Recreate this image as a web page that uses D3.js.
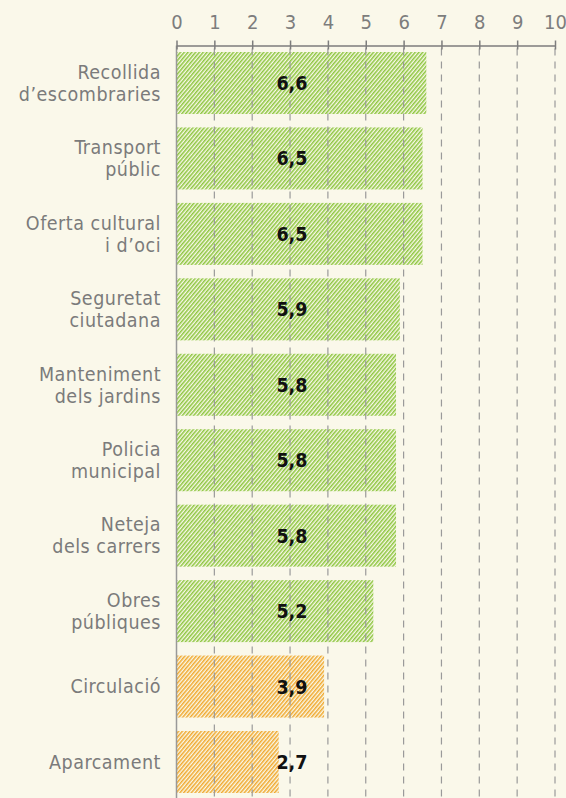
<!DOCTYPE html>
<html>
<head>
<meta charset="utf-8">
<script src="https://cdn.jsdelivr.net/npm/d3@7"></script>
<style>
  html, body { margin: 0; padding: 0; background: #faf8ea; }
  svg { display: block; }
</style>
</head>
<body>
<div id="chart"></div>
<script>
const categories = [
  ["Recollida", "d’escombraries"],
  ["Transport", "públic"],
  ["Oferta cultural", "i d’oci"],
  ["Seguretat", "ciutadana"],
  ["Manteniment", "dels jardins"],
  ["Policia", "municipal"],
  ["Neteja", "dels carrers"],
  ["Obres", "públiques"],
  ["Circulació"],
  ["Aparcament"]
];
const values = [6.6, 6.5, 6.5, 5.9, 5.8, 5.8, 5.8, 5.2, 3.9, 2.7];
const groups = ["ok", "ok", "ok", "ok", "ok", "ok", "ok", "ok", "low", "low"];
const ticks = [0, 1, 2, 3, 4, 5, 6, 7, 8, 9, 10];

const width = 566, height = 798;
const axisY = 45.5;
const font = "'DejaVu Sans Condensed', 'DejaVu Sans', sans-serif";
const data = values.map((v, i) => ({ label: categories[i], value: v, group: groups[i], i }));

const svg = d3.select("#chart").append("svg")
    .attr("width", width)
    .attr("height", height)
    .style("background", "#faf8ea");

const x = d3.scaleLinear().domain([0, 10]).range([176.5, 555]);
const y = d3.scaleBand()
    .domain(data.map(d => d.i))
    .range([52, 793])
    .paddingInner(0.178)
    .paddingOuter(0);

const colors = { ok: "#8dc63f", low: "#f0a92e" };

const defs = svg.append("defs");
Object.entries(colors).forEach(([k, c]) => {
  const p = defs.append("pattern")
      .attr("id", "hatch-" + k)
      .attr("patternUnits", "userSpaceOnUse")
      .attr("width", 2.9)
      .attr("height", 10)
      .attr("patternTransform", "rotate(40)");
  p.append("rect").attr("width", 2.9).attr("height", 10).attr("fill", "#faf8ea");
  p.append("rect").attr("width", 1.5).attr("height", 10).attr("fill", c);
});

// bars
svg.append("g")
  .selectAll("rect")
  .data(data)
  .join("rect")
    .attr("x", x(0))
    .attr("y", d => y(d.i))
    .attr("width", d => x(d.value) - x(0))
    .attr("height", y.bandwidth())
    .attr("fill", d => `url(#hatch-${d.group})`);

// dashed grid
svg.append("g")
  .selectAll("line")
  .data(ticks.slice(1))
  .join("line")
    .attr("x1", d => x(d)).attr("x2", d => x(d))
    .attr("y1", axisY).attr("y2", height)
    .attr("stroke", "#9a9a9a")
    .attr("stroke-width", 1.2)
    .attr("stroke-dasharray", "7,6")
    .attr("stroke-dashoffset", -3);

// zero line
svg.append("line")
    .attr("x1", x(0)).attr("x2", x(0))
    .attr("y1", axisY).attr("y2", height)
    .attr("stroke", "#999")
    .attr("stroke-width", 1.5);

// top axis
svg.append("g")
    .attr("transform", `translate(0,${axisY})`)
    .call(d3.axisTop(x).tickValues(ticks).tickSize(4).tickSizeOuter(0).tickPadding(13))
    .call(g => g.select(".domain").attr("stroke", "#7d7d7d").attr("stroke-width", 1.5))
    .call(g => g.selectAll(".tick line").attr("stroke", "#7d7d7d").attr("stroke-width", 1.5)
        .attr("y1", 4).attr("y2", -5))
    .call(g => g.selectAll(".tick text")
        .attr("fill", "#7d7d7d")
        .attr("font-family", font)
        .attr("font-size", 20));

// category labels
const labels = svg.append("g")
  .selectAll("text")
  .data(data)
  .join("text")
    .attr("x", 161)
    .attr("text-anchor", "end")
    .attr("fill", "#7b7b7b")
    .attr("font-family", font)
    .attr("font-size", 19.5)
    .attr("letter-spacing", 0.5)
    .attr("y", d => y(d.i) + y.bandwidth() / 2 - (d.label.length - 1) * 11);
labels.selectAll("tspan")
  .data(d => d.label)
  .join("tspan")
    .attr("x", 161)
    .attr("dy", (d, j) => j === 0 ? "0.35em" : 22)
    .text(d => d);

// value labels
svg.append("g")
  .selectAll("text")
  .data(data)
  .join("text")
    .attr("x", x(3.05))
    .attr("y", d => y(d.i) + y.bandwidth() / 2)
    .attr("dy", "0.36em")
    .attr("text-anchor", "middle")
    .attr("font-family", font)
    .attr("font-weight", "bold")
    .attr("font-size", 19.5)
    .attr("fill", "#111")
    .text(d => d3.format(".1f")(d.value).replace(".", ","));
</script>
</body>
</html>
